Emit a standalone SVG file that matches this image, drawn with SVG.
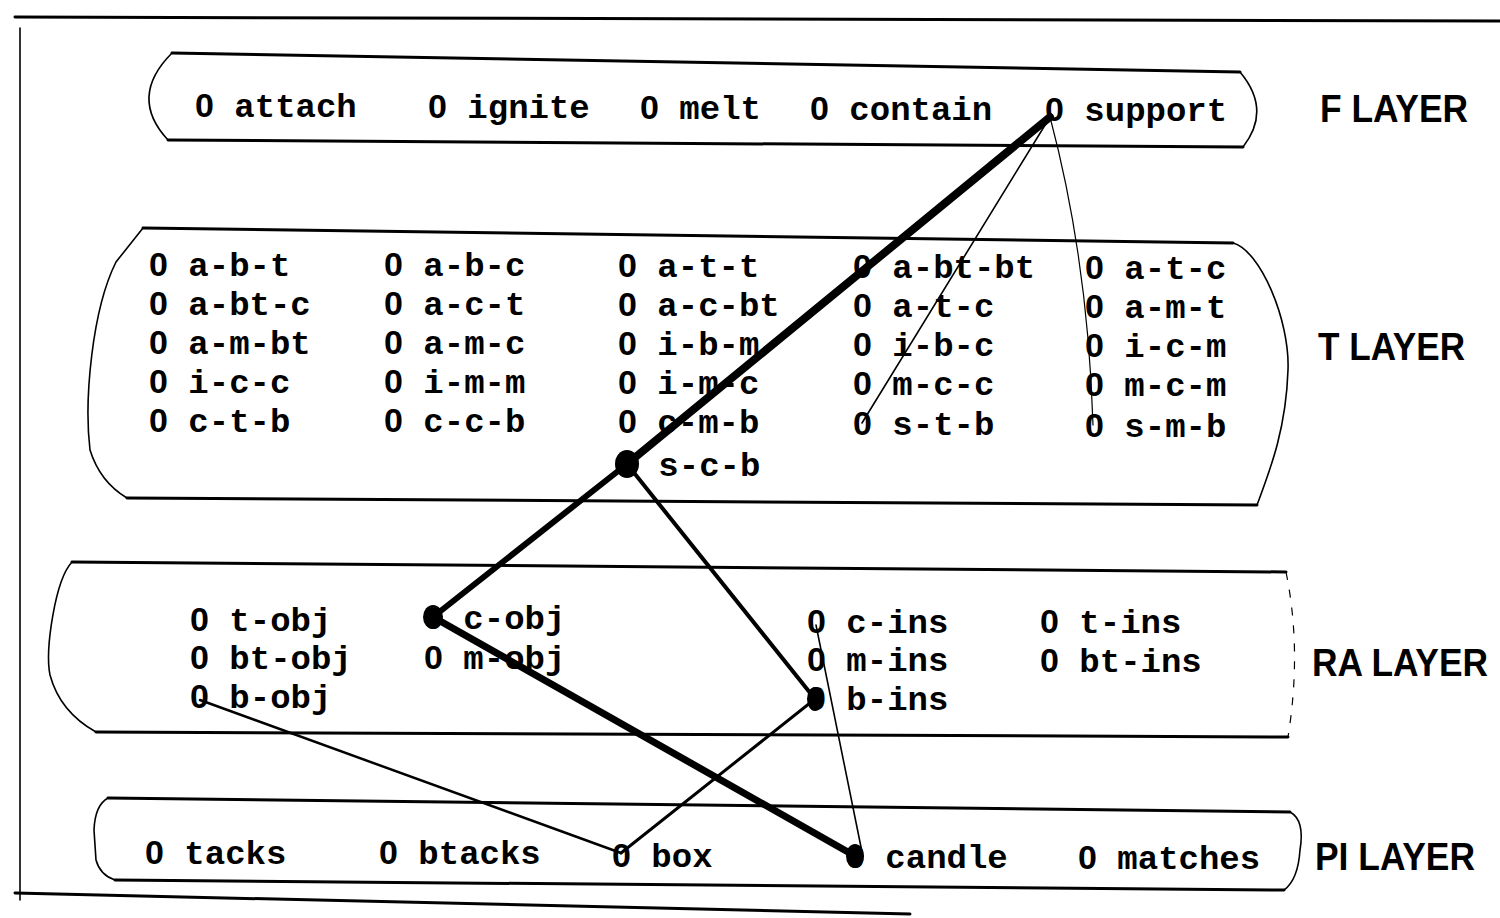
<svg xmlns="http://www.w3.org/2000/svg" width="1500" height="918" viewBox="0 0 1500 918">
<style>
.t{font-family:"Liberation Mono","DejaVu Sans Mono",monospace;font-weight:bold;font-size:34px;fill:#000}
.z{font-family:"Liberation Sans",Arial,sans-serif;font-weight:bold;font-size:34px}
.L{font-family:"Liberation Sans",Arial,sans-serif;font-weight:bold;font-size:38px;fill:#000}
.edge{fill:none;stroke:#000;stroke-width:3;stroke-linecap:round}
.side{fill:none;stroke:#000;stroke-width:1.6;stroke-linecap:round}
.faint{fill:none;stroke:#000;stroke-width:1.2;stroke-dasharray:8 10}
.c{fill:none;stroke:#000;stroke-linecap:round;stroke-linejoin:round}
.dot{fill:#000}
</style>
<rect width="1500" height="918" fill="#fff"/>
<g id="frame">
<path class="edge" d="M15,17 L1500,21"/>
<path class="side" d="M20,28 L20,900" stroke-width="2"/>
<path class="edge" d="M15,893 L910,914"/>
</g>
<g id="f-layer">
<path class="edge" d="M172,53 L1240,72"/>
<path class="edge" d="M168,140 L1243,147"/>
<path class="side" d="M172,53 Q128,97 168,140"/>
<path class="side" d="M1240,72 Q1272,110 1243,147"/>
<g id="n-attach"><text class="t" x="195" y="117"><tspan class="z">0</tspan> attach</text></g>
<g id="n-ignite"><text class="t" x="428" y="118"><tspan class="z">0</tspan> ignite</text></g>
<g id="n-melt"><text class="t" x="640" y="119"><tspan class="z">0</tspan> melt</text></g>
<g id="n-contain"><text class="t" x="810" y="120"><tspan class="z">0</tspan> contain</text></g>
<g id="n-support"><text class="t" x="1045" y="121"><tspan class="z">0</tspan> support</text></g>
<text class="L" x="1320" y="122" textLength="148" lengthAdjust="spacingAndGlyphs">F LAYER</text>
</g>
<g id="t-layer">
<path class="edge" d="M143,228 L1233,243"/>
<path class="edge" d="M127,498 L1257,505"/>
<path class="side" d="M143,228 L116,262 C92,310 84,400 90,450 Q100,482 127,498"/>
<path class="side" d="M1233,243 C1260,250 1290,320 1288,370 C1286,430 1270,470 1257,505"/>
<g id="n-a-b-t"><text class="t" x="149" y="276"><tspan class="z">0</tspan> a-b-t</text></g>
<g id="n-a-bt-c"><text class="t" x="149" y="315"><tspan class="z">0</tspan> a-bt-c</text></g>
<g id="n-a-m-bt"><text class="t" x="149" y="354"><tspan class="z">0</tspan> a-m-bt</text></g>
<g id="n-i-c-c"><text class="t" x="149" y="393"><tspan class="z">0</tspan> i-c-c</text></g>
<g id="n-c-t-b"><text class="t" x="149" y="432"><tspan class="z">0</tspan> c-t-b</text></g>
<g id="n-a-b-c"><text class="t" x="384" y="276"><tspan class="z">0</tspan> a-b-c</text></g>
<g id="n-a-c-t"><text class="t" x="384" y="315"><tspan class="z">0</tspan> a-c-t</text></g>
<g id="n-a-m-c"><text class="t" x="384" y="354"><tspan class="z">0</tspan> a-m-c</text></g>
<g id="n-i-m-m"><text class="t" x="384" y="393"><tspan class="z">0</tspan> i-m-m</text></g>
<g id="n-c-c-b"><text class="t" x="384" y="432"><tspan class="z">0</tspan> c-c-b</text></g>
<g id="n-a-t-t"><text class="t" x="618" y="277"><tspan class="z">0</tspan> a-t-t</text></g>
<g id="n-a-c-bt"><text class="t" x="618" y="316"><tspan class="z">0</tspan> a-c-bt</text></g>
<g id="n-i-b-m"><text class="t" x="618" y="355"><tspan class="z">0</tspan> i-b-m</text></g>
<g id="n-i-m-c"><text class="t" x="618" y="394"><tspan class="z">0</tspan> i-m-c</text></g>
<g id="n-c-m-b"><text class="t" x="618" y="433"><tspan class="z">0</tspan> c-m-b</text></g>
<g id="n-s-c-b"><text class="t" x="619" y="476"><tspan class="z">0</tspan> s-c-b</text><ellipse class="dot" cx="627" cy="464" rx="12" ry="14"/></g>
<g id="n-a-bt-bt"><text class="t" x="853" y="278"><tspan class="z">0</tspan> a-bt-bt</text></g>
<g id="n-a-t-c-1"><text class="t" x="853" y="317"><tspan class="z">0</tspan> a-t-c</text></g>
<g id="n-i-b-c"><text class="t" x="853" y="356"><tspan class="z">0</tspan> i-b-c</text></g>
<g id="n-m-c-c"><text class="t" x="853" y="395"><tspan class="z">0</tspan> m-c-c</text></g>
<g id="n-s-t-b"><text class="t" x="853" y="435"><tspan class="z">0</tspan> s-t-b</text></g>
<g id="n-a-t-c-2"><text class="t" x="1085" y="279"><tspan class="z">0</tspan> a-t-c</text></g>
<g id="n-a-m-t"><text class="t" x="1085" y="318"><tspan class="z">0</tspan> a-m-t</text></g>
<g id="n-i-c-m"><text class="t" x="1085" y="357"><tspan class="z">0</tspan> i-c-m</text></g>
<g id="n-m-c-m"><text class="t" x="1085" y="396"><tspan class="z">0</tspan> m-c-m</text></g>
<g id="n-s-m-b"><text class="t" x="1085" y="437"><tspan class="z">0</tspan> s-m-b</text></g>
<text class="L" x="1318" y="360" textLength="147" lengthAdjust="spacingAndGlyphs">T LAYER</text>
</g>
<g id="ra-layer">
<path class="edge" d="M72,562 L1286,572"/>
<path class="edge" d="M96,732 L1288,737"/>
<path class="side" d="M72,562 C55,580 45,650 50,675 Q60,712 96,732"/>
<path class="faint" d="M1286,572 Q1302,650 1288,737"/>
<g id="n-t-obj"><text class="t" x="190" y="631"><tspan class="z">0</tspan> t-obj</text></g>
<g id="n-bt-obj"><text class="t" x="190" y="669"><tspan class="z">0</tspan> bt-obj</text></g>
<g id="n-b-obj"><text class="t" x="190" y="708"><tspan class="z">0</tspan> b-obj</text></g>
<g id="n-c-obj"><text class="t" x="424" y="629"><tspan class="z">0</tspan> c-obj</text><ellipse class="dot" cx="433" cy="617" rx="10" ry="12"/></g>
<g id="n-m-obj"><text class="t" x="424" y="669"><tspan class="z">0</tspan> m-obj</text></g>
<g id="n-c-ins"><text class="t" x="807" y="633"><tspan class="z">0</tspan> c-ins</text></g>
<g id="n-m-ins"><text class="t" x="807" y="671"><tspan class="z">0</tspan> m-ins</text></g>
<g id="n-b-ins"><text class="t" x="807" y="710"><tspan class="z">0</tspan> b-ins</text><ellipse class="dot" cx="815" cy="699" rx="8" ry="12"/></g>
<g id="n-t-ins"><text class="t" x="1040" y="633"><tspan class="z">0</tspan> t-ins</text></g>
<g id="n-bt-ins"><text class="t" x="1040" y="672"><tspan class="z">0</tspan> bt-ins</text></g>
<text class="L" x="1312" y="676" textLength="176" lengthAdjust="spacingAndGlyphs">RA LAYER</text>
</g>
<g id="pi-layer">
<path class="edge" d="M108,798 L1290,812"/>
<path class="edge" d="M115,880 L1284,890"/>
<path class="side" d="M108,798 Q95,805 94,830 L96,860 Q100,875 115,880" stroke-width="2"/>
<path class="side" d="M1290,812 Q1305,820 1300,850 Q1298,880 1284,890" stroke-width="2"/>
<g id="n-tacks"><text class="t" x="145" y="864"><tspan class="z">0</tspan> tacks</text></g>
<g id="n-btacks"><text class="t" x="379" y="864"><tspan class="z">0</tspan> btacks</text></g>
<g id="n-box"><text class="t" x="612" y="867"><tspan class="z">0</tspan> box</text></g>
<g id="n-candle"><text class="t" x="846" y="868"><tspan class="z">0</tspan> candle</text><ellipse class="dot" cx="855" cy="856" rx="9" ry="12"/></g>
<g id="n-matches"><text class="t" x="1078" y="869"><tspan class="z">0</tspan> matches</text></g>
<text class="L" x="1315" y="870" textLength="160" lengthAdjust="spacingAndGlyphs">PI LAYER</text>
</g>
<g id="connectors">
<path class="c" stroke-width="8" d="M1050,117 L627,464"/>
<path class="c" stroke-width="6" d="M627,464 L433,617"/>
<path class="c" stroke-width="4" d="M627,464 L815,699"/>
<path class="c" stroke-width="7" d="M433,617 L855,856"/>
<path class="c" stroke-width="3" d="M815,699 L621,853"/>
<path class="c" stroke-width="2.5" d="M200,700 L621,853"/>
<path class="c" stroke-width="1.6" d="M1050,117 L862,423"/>
<path class="c" stroke-width="1.2" d="M1050,117 Q1088,260 1093,425"/>
<path class="c" stroke-width="1.6" d="M816,625 L862,852"/>
</g>
</svg>
